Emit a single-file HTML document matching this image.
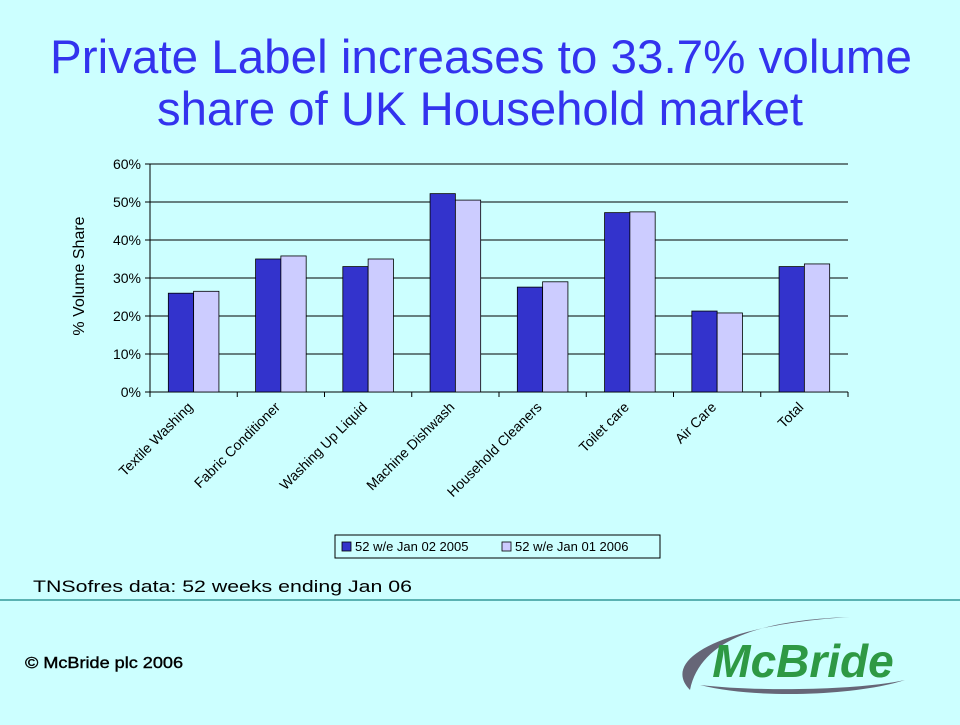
<!DOCTYPE html>
<html><head><meta charset="utf-8"><style>
body{margin:0;width:960px;height:720px;background:#ccffff;overflow:hidden;font-family:"Liberation Sans",sans-serif;}
</style></head><body>
<svg width="960" height="720" xmlns="http://www.w3.org/2000/svg">
<text x="481" y="73" text-anchor="middle" font-size="47" fill="#3333ee" textLength="862" lengthAdjust="spacingAndGlyphs">Private Label increases to 33.7% volume</text>
<text x="480" y="125" text-anchor="middle" font-size="47" fill="#3333ee" textLength="646" lengthAdjust="spacingAndGlyphs">share of UK Household market</text>
<g id="chart"></g>
<text x="84" y="276" text-anchor="middle" font-size="16" transform="rotate(-90 84 276)">% Volume Share</text>
<g>
<rect x="335" y="535" width="325" height="23" fill="#ccffff" stroke="#000" stroke-width="1"/>
<rect x="342" y="542" width="9" height="9" fill="#3333cc" stroke="#000" stroke-width="0.8"/>
<text x="355" y="551" font-size="13">52 w/e Jan 02 2005</text>
<rect x="502" y="542" width="9" height="9" fill="#ccccff" stroke="#000" stroke-width="0.8"/>
<text x="515" y="551" font-size="13">52 w/e Jan 01 2006</text>
</g>
<text x="33" y="592" font-size="17" textLength="379" lengthAdjust="spacingAndGlyphs">TNSofres data: 52 weeks ending Jan 06</text>
<line x1="0" y1="600" x2="960" y2="600" stroke="#339999" stroke-width="1.5"/>
<text x="25" y="668" font-size="16" stroke="#000" stroke-width="0.4" textLength="158" lengthAdjust="spacingAndGlyphs">© McBride plc 2006</text>
<g>
<path d="M690,690 C660,660 720,625 850,617 C760,620 700,640 690,690 Z" fill="#666677"/>
<path d="M700,685 C760,700 860,695 905,680 C860,690 760,692 700,685 Z" fill="#666677"/>
<text x="803" y="677" text-anchor="middle" font-size="46" font-weight="bold" font-style="italic" fill="#2e9944">McBride</text>
</g>
</svg>
<script>
const categories=["Textile Washing","Fabric Conditioner","Washing Up Liquid","Machine Dishwash","Household Cleaners","Toilet care","Air Care","Total"];
const series2005=[26,35,33,52.2,27.6,47.2,21.3,33];
const series2006=[26.5,35.8,35,50.5,29,47.4,20.8,33.7];
const yTicks=[0,10,20,30,40,50,60];
const NS="http://www.w3.org/2000/svg";
const g=document.getElementById('chart');
const X0=150,X1=848,Y0=392,Y1=164,YMAX=60;
const y=v=>Y0-(v/YMAX)*(Y0-Y1);
const bw=(X1-X0)/categories.length;
const x=i=>X0+i*bw;
function mk(t,a){const e=document.createElementNS(NS,t);for(const k in a)e.setAttribute(k,a[k]);g.appendChild(e);return e;}
yTicks.forEach(v=>{
 const l=mk('line',{x1:X0-5,x2:X1,y1:y(v),y2:y(v),stroke:'#000','stroke-width':1});
 
 
 const t=mk('text',{x:X0-9,y:y(v)+5,'text-anchor':'end','font-size':14});
 t.textContent=v+'%';
 
 
});
const ax=mk('line',{x1:X0,x2:X0,y1:Y1,y2:Y0,stroke:'#000'});


for(let i=0;i<=categories.length;i++){
 const tk=mk('line',{x1:x(i),x2:x(i),y1:Y0,y2:Y0+5,stroke:'#000'});
 
 
}
const w=bw*0.29;
categories.forEach((c,i)=>{
 const cx=x(i)+bw/2;
 const b1=mk('rect',{x:cx-w,y:y(series2005[i]),width:w,height:Y0-y(series2005[i]),fill:'#3333cc',stroke:'#000','stroke-width':0.8});
 
 
 const b2=mk('rect',{x:cx,y:y(series2006[i]),width:w,height:Y0-y(series2006[i]),fill:'#ccccff',stroke:'#000','stroke-width':0.8});
 
 
 const tx=cx,ty=Y0+16;
 const t=mk('text',{x:tx,y:ty,'text-anchor':'end','font-size':14,transform:`rotate(-45 ${tx} ${ty})`});
 t.textContent=c;
 
 
});
</script>
</body></html>
